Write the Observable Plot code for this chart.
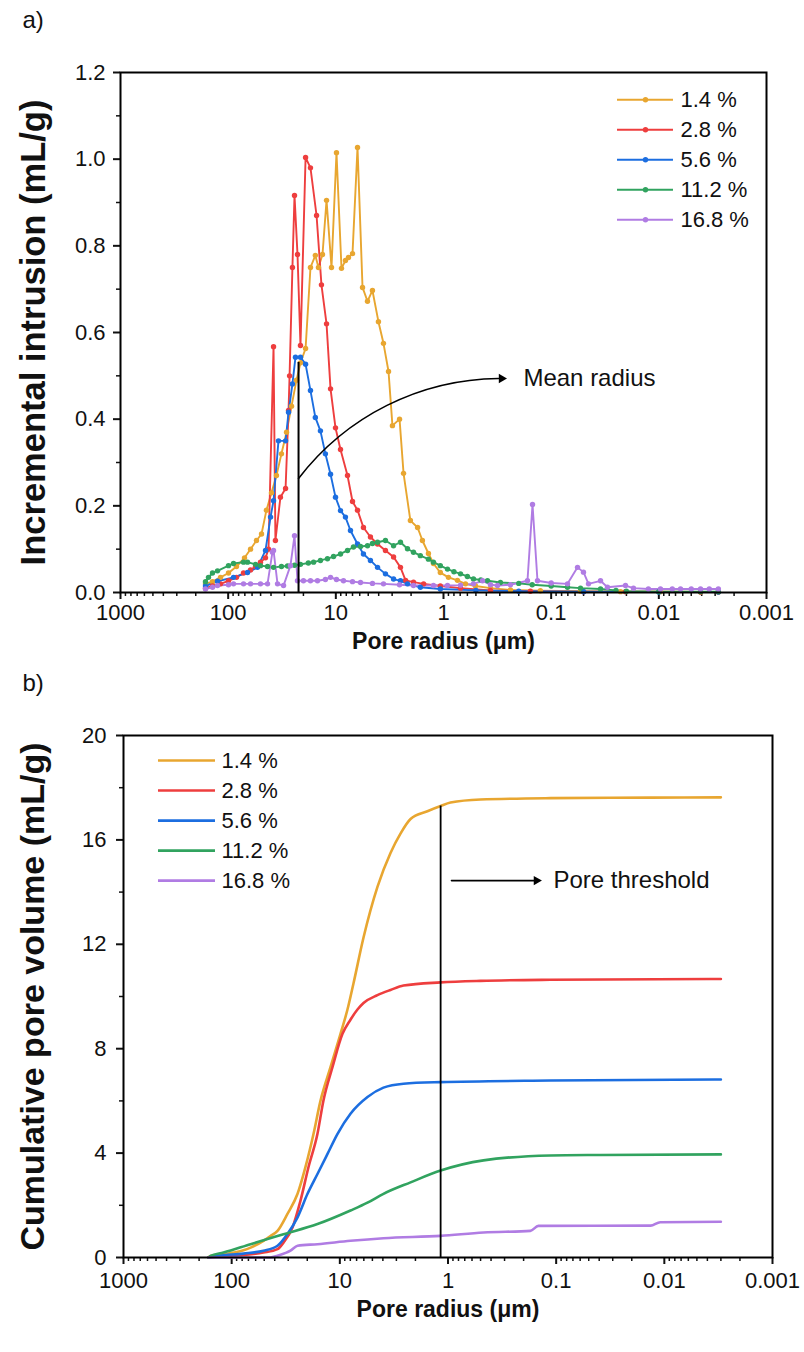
<!DOCTYPE html>
<html><head><meta charset="utf-8">
<script src="https://cdn.jsdelivr.net/npm/d3@7"></script>
<script src="https://cdn.jsdelivr.net/npm/@observablehq/plot@0.6"></script>
<style>
html,body{margin:0;padding:0;background:#fff;overflow:hidden;}
#chart{width:804px;height:1352px;position:relative;background:#fff;}
#chart svg{display:block;}
</style></head><body><div id="chart"></div>
<script>
// ---------- data ----------
const seriesNames = ["1.4 %", "2.8 %", "5.6 %", "11.2 %", "16.8 %"];
const seriesColors = ["#E8A630", "#EE3E3E", "#1C6EE0", "#31A35F", "#B07CE3"];

const xTicks = [1000, 100, 10, 1, 0.1, 0.01, 0.001];
const xTickLabels = ["1000", "100", "10", "1", "0.1", "0.01", "0.001"];
const yTicksA = [0, 0.2, 0.4, 0.6, 0.8, 1.0, 1.2];
const yTicksB = [0, 4, 8, 12, 16, 20];

// a) incremental intrusion (mL/g) vs pore radius (µm)
const inc_1_4 = [[162.4,0.02],[139.8,0.025],[117.8,0.035],[99.3,0.045],[83.7,0.06],[70.5,0.08],[62.0,0.10],[54.6,0.12],[49.0,0.135],[44.1,0.19],[39.6,0.23],[35.6,0.27],[32.0,0.32],[28.7,0.37],[25.8,0.43],[23.2,0.49],[21.3,0.53],[19.1,0.563],[17.2,0.75],[15.5,0.778],[14.5,0.75],[13.3,0.78],[12.2,0.905],[10.97,0.75],[9.86,1.015],[8.86,0.748],[8.14,0.766],[7.63,0.773],[7.00,0.782],[6.29,1.027],[5.65,0.704],[5.08,0.672],[4.57,0.697],[4.02,0.625],[3.61,0.575],[3.24,0.51],[2.98,0.385],[2.56,0.40],[2.35,0.275],[2.03,0.166],[1.74,0.15],[1.57,0.12],[1.38,0.09],[1.24,0.067],[1.07,0.046],[0.899,0.035],[0.742,0.028],[0.625,0.02],[0.505,0.015],[0.366,0.01],[0.239,0.006],[0.126,0.004],[0.0534,0.003],[0.0227,0.002],[0.00966,0.002],[0.0041,0.001],[0.0028,0.001]];
const inc_2_8 = [[162.4,0.01],[139.8,0.015],[117.8,0.02],[99.3,0.027],[83.7,0.035],[72.0,0.045],[62.0,0.052],[55.7,0.06],[50.1,0.07],[45.0,0.08],[42.2,0.10],[37.9,0.567],[36.4,0.12],[32.7,0.22],[29.3,0.24],[27.5,0.42],[26.9,0.50],[25.3,0.75],[24.2,0.916],[22.7,0.78],[21.3,0.57],[19.1,1.004],[17.2,0.98],[15.1,0.87],[13.6,0.71],[12.2,0.62],[11.2,0.47],[10.07,0.38],[9.05,0.33],[7.79,0.27],[7.00,0.21],[6.29,0.19],[5.54,0.15],[4.77,0.128],[4.10,0.112],[3.46,0.097],[2.91,0.082],[2.51,0.058],[2.25,0.028],[1.90,0.024],[1.53,0.02],[1.07,0.015],[0.695,0.01],[0.366,0.005],[0.156,0.003],[0.05,0.002],[0.0204,0.002],[0.0041,0.001],[0.0028,0.001]];
const inc_5_6 = [[162.4,0.015],[125.6,0.026],[89.2,0.035],[66.1,0.046],[53.4,0.058],[45.0,0.097],[40.4,0.174],[37.9,0.212],[34.1,0.35],[29.3,0.35],[27.5,0.416],[25.3,0.481],[23.7,0.543],[21.3,0.543],[19.1,0.527],[17.2,0.466],[15.5,0.404],[13.9,0.373],[12.5,0.32],[11.2,0.273],[10.07,0.22],[9.05,0.189],[8.14,0.174],[7.31,0.143],[6.29,0.112],[5.54,0.089],[4.77,0.074],[4.10,0.058],[3.46,0.043],[2.91,0.031],[2.51,0.027],[2.16,0.02],[1.64,0.012],[1.07,0.008],[0.5,0.005],[0.2,0.003],[0.05,0.002],[0.01,0.001],[0.0028,0.001]];
const inc_11_2 = [[162.4,0.025],[152.3,0.035],[139.8,0.045],[125.6,0.05],[99.3,0.062],[89.2,0.067],[72.0,0.07],[66.1,0.07],[55.7,0.065],[50.1,0.062],[43.1,0.06],[37.9,0.058],[32.0,0.06],[28.1,0.061],[24.2,0.063],[21.3,0.065],[18.0,0.068],[16.1,0.07],[13.9,0.074],[11.96,0.078],[10.5,0.083],[9.05,0.089],[7.79,0.097],[6.86,0.105],[5.90,0.106],[5.08,0.108],[4.57,0.113],[4.10,0.116],[3.46,0.12],[2.91,0.108],[2.51,0.116],[2.16,0.101],[1.90,0.093],[1.64,0.085],[1.38,0.077],[1.24,0.07],[1.07,0.062],[0.918,0.054],[0.80,0.048],[0.695,0.043],[0.6,0.037],[0.527,0.031],[0.45,0.029],[0.39,0.027],[0.296,0.023],[0.2,0.021],[0.15,0.018],[0.1,0.015],[0.0705,0.012],[0.0534,0.01],[0.0348,0.008],[0.025,0.005],[0.02,0.003],[0.01,0.002],[0.0041,0.002],[0.0028,0.002]];
const inc_16_8 = [[162.4,0.008],[139.8,0.012],[125.6,0.016],[99.3,0.018],[89.2,0.02],[72.0,0.02],[62.0,0.02],[50.1,0.02],[43.1,0.02],[38.8,0.093],[37.9,0.097],[34.8,0.02],[30.6,0.016],[26.4,0.062],[24.2,0.131],[22.7,0.027],[20.0,0.027],[17.2,0.027],[14.8,0.027],[12.5,0.03],[11.2,0.035],[9.86,0.03],[8.49,0.027],[7.0,0.025],[5.90,0.023],[4.57,0.021],[3.61,0.02],[2.56,0.018],[1.90,0.016],[1.24,0.016],[0.918,0.016],[0.695,0.017],[0.527,0.02],[0.434,0.027],[0.366,0.018],[0.315,0.016],[0.239,0.018],[0.166,0.027],[0.149,0.203],[0.134,0.027],[0.1,0.022],[0.0705,0.02],[0.0569,0.058],[0.0501,0.047],[0.045,0.02],[0.0348,0.027],[0.030,0.012],[0.0204,0.016],[0.0172,0.01],[0.0125,0.008],[0.00966,0.008],[0.0075,0.008],[0.00629,0.008],[0.005,0.008],[0.0041,0.008],[0.0034,0.008],[0.0028,0.008]];

// b) cumulative pore volume (mL/g) vs pore radius (µm)
const cum_1_4 = [[163.8,0],[156.9,0.06],[119.0,0.12],[96.2,0.19],[77.7,0.28],[66.9,0.38],[50.8,0.64],[43.8,0.82],[37.7,1.02],[30.5,1.67],[24.6,2.44],[20.8,3.46],[17.5,4.74],[15.1,6.0],[12.2,7.29],[9.86,8.57],[8.50,9.5],[7.48,10.5],[6.04,12.26],[4.49,14.2],[3.40,15.5],[2.75,16.24],[2.22,16.8],[1.55,17.1],[1.17,17.3],[0.948,17.43],[0.501,17.55],[0.113,17.6],[0.0134,17.62],[0.003,17.63]];
const cum_2_8 = [[163.8,0],[135.2,0.04],[77.7,0.1],[50.8,0.19],[37.7,0.32],[33.2,0.57],[27.4,1.15],[23.1,2.18],[19.5,3.46],[16.1,4.74],[14.2,6.0],[11.7,7.29],[9.45,8.57],[8.0,9.1],[6.87,9.5],[6.04,9.75],[4.49,10.05],[3.40,10.25],[2.58,10.42],[1.17,10.54],[0.501,10.6],[0.113,10.64],[0.003,10.67]];
const cum_5_6 = [[163.8,0],[135.2,0.06],[77.7,0.15],[50.8,0.26],[37.7,0.45],[30.5,0.9],[24.6,1.54],[19.9,2.44],[16.1,3.2],[13.0,3.97],[10.5,4.74],[7.97,5.51],[5.55,6.15],[3.95,6.51],[2.58,6.66],[1.17,6.72],[0.113,6.78],[0.003,6.82]];
const cum_11_2 = [[163.8,0],[156.9,0.06],[119.0,0.19],[66.9,0.51],[33.2,0.89],[16.1,1.28],[7.97,1.8],[5.55,2.1],[3.95,2.44],[2.22,2.88],[1.17,3.33],[0.47,3.72],[0.113,3.91],[0.0389,3.93],[0.003,3.95]];
const cum_16_8 = [[163.8,0],[43.8,0],[37.7,0.07],[28.6,0.26],[24.6,0.45],[16.1,0.51],[7.97,0.64],[3.95,0.74],[1.17,0.83],[0.47,0.96],[0.173,1.02],[0.146,1.21],[0.0134,1.22],[0.0109,1.35],[0.003,1.37]];

// annotations
const meanRadius = 22.2, meanRadiusTop = 0.531;
const meanArrow = {x1: 22.2, y1: 0.263, x2: 0.308, y2: 0.494, head: 0.289, label: 0.181, text: "Mean radius"};
const poreThreshold = 1.17, poreThresholdTop = 17.3;
const thresholdArrow = {x1: 0.929, x2: 0.16, y: 14.44, head: 0.152, label: 0.106, text: "Pore threshold"};

// ---------- helpers ----------
const FONT = "'Liberation Sans', Arial, Helvetica, sans-serif";
const rows = (arrs) => seriesNames.flatMap((s, i) => arrs[i].map(([r, v]) => ({series: s, r, v})));
const tableA = rows([inc_1_4, inc_2_8, inc_5_6, inc_11_2, inc_16_8]);
const tableB = rows([cum_1_4, cum_2_8, cum_5_6, cum_11_2, cum_16_8]);
const legendRows = seriesNames.map((s, i) => ({series: s, i}));
const xMinor = [];
for (let e = -3; e < 3; e++) for (let k = 2; k <= 9; k++) xMinor.push(+(k * Math.pow(10, e)).toPrecision(3));
const xFmt = d => xTickLabels[xTicks.indexOf(d)] ?? "";
const color = {domain: seriesNames, range: seriesColors};
const styleBase = {fontFamily: FONT, fontSize: "22px", color: "#111", background: "transparent", overflow: "visible"};

// legend layout (in data units)
const LA = {x1: 0.0242, x2: 0.00731, xd: 0.0133, xt: 0.0063, y0: 1.137, dy: 0.0692};
const LB = {x1: 474.8, x2: 141.1, xt: 124.2, y0: 19.04, dy: 1.15};

// ---------- panel a ----------
const plotA = Plot.plot({
  width: 804, height: 660,
  marginTop: 72, marginBottom: 68, marginLeft: 120, marginRight: 38,
  style: styleBase,
  x: {type: "log", domain: [1000, 0.001]},
  y: {domain: [0, 1.2]},
  color,
  marks: [
    Plot.axisX({ticks: xTicks, tickFormat: xFmt, tickSize: 7, tickPadding: 5, strokeWidth: 2, fontSize: 22, label: null}),
    Plot.axisX({ticks: xMinor, tickSize: 4, strokeWidth: 1.5, text: null, label: null}),
    Plot.axisY({ticks: yTicksA, tickFormat: d3.format(".1f"), tickSize: 7, tickPadding: 8, strokeWidth: 2, fontSize: 22, label: null}),
    Plot.axisY({ticks: [0.1, 0.3, 0.5, 0.7, 0.9, 1.1], tickSize: 4, strokeWidth: 1.5, text: null, label: null}),
    Plot.line(tableA, {x: "r", y: "v", z: "series", stroke: "series", strokeWidth: 1.9}),
    Plot.dot(tableA, {x: "r", y: "v", fill: "series", r: 2.7}),
    Plot.ruleX([meanRadius], {y1: 0, y2: meanRadiusTop, stroke: "#000", strokeWidth: 2}),
    Plot.arrow([meanArrow], {x1: "x1", y1: "y1", x2: "x2", y2: "y2", bend: 26, headLength: 0, stroke: "#000", strokeWidth: 1.6}),
    Plot.dot([meanArrow], {x: "head", y: "y2", symbol: "triangle2", rotate: 90, r: 4.5, fill: "#000", stroke: "none"}),
    Plot.text([meanArrow], {x: "label", y: "y2", text: "text", textAnchor: "start", fontSize: 24}),
    // legend
    Plot.ruleY(legendRows, {x1: () => LA.x1, x2: () => LA.x2, y: d => LA.y0 - d.i * LA.dy, stroke: "series", strokeWidth: 1.9}),
    Plot.dot(legendRows, {x: () => LA.xd, y: d => LA.y0 - d.i * LA.dy, fill: "series", r: 2.7}),
    Plot.text(legendRows, {x: () => LA.xt, y: d => LA.y0 - d.i * LA.dy, text: "series", textAnchor: "start", fontSize: 22}),
    Plot.frame({stroke: "#000", strokeWidth: 2}),
    // titles
    Plot.text(["Incremental intrusion (mL/g)"], {frameAnchor: "left", dx: -87, rotate: -90, fontSize: 34.5, fontWeight: "bold", textAnchor: "middle", lineAnchor: "middle"}),
    Plot.text(["Pore radius (μm)"], {frameAnchor: "bottom", dy: 49, fontSize: 23, fontWeight: "bold", textAnchor: "middle", lineAnchor: "middle"}),
    Plot.text(["a)"], {frameAnchor: "top-left", dx: -98, dy: -52, fontSize: 24, textAnchor: "start", lineAnchor: "middle"})
  ]
});

// ---------- panel b ----------
const plotB = Plot.plot({
  width: 804, height: 692,
  marginTop: 75, marginBottom: 95, marginLeft: 123, marginRight: 32,
  style: styleBase,
  x: {type: "log", domain: [1000, 0.001]},
  y: {domain: [0, 20]},
  color,
  marks: [
    Plot.axisX({ticks: xTicks, tickFormat: xFmt, tickSize: 7, tickPadding: 8, strokeWidth: 2, fontSize: 22, label: null}),
    Plot.axisX({ticks: xMinor, tickSize: 4, strokeWidth: 1.5, text: null, label: null}),
    Plot.axisY({ticks: yTicksB, tickFormat: d3.format("d"), tickSize: 7, tickPadding: 10, strokeWidth: 2, fontSize: 22, label: null}),
    Plot.axisY({ticks: [2, 6, 10, 14, 18], tickSize: 4, strokeWidth: 1.5, text: null, label: null}),
    Plot.line(tableB, {x: "r", y: "v", z: "series", stroke: "series", strokeWidth: 2.6, curve: "monotone-x"}),
    Plot.ruleX([poreThreshold], {y1: 0, y2: poreThresholdTop, stroke: "#000", strokeWidth: 1.8}),
    Plot.arrow([thresholdArrow], {x1: "x1", y1: "y", x2: "x2", y2: "y", headLength: 0, stroke: "#000", strokeWidth: 1.6}),
    Plot.dot([thresholdArrow], {x: "head", y: "y", symbol: "triangle2", rotate: 90, r: 4.5, fill: "#000", stroke: "none"}),
    Plot.text([thresholdArrow], {x: "label", y: "y", text: "text", textAnchor: "start", fontSize: 24}),
    // legend
    Plot.ruleY(legendRows, {x1: () => LB.x1, x2: () => LB.x2, y: d => LB.y0 - d.i * LB.dy, stroke: "series", strokeWidth: 2.6}),
    Plot.text(legendRows, {x: () => LB.xt, y: d => LB.y0 - d.i * LB.dy, text: "series", textAnchor: "start", fontSize: 22}),
    Plot.frame({stroke: "#000", strokeWidth: 2}),
    // titles
    Plot.text(["Cumulative pore volume (mL/g)"], {frameAnchor: "left", dx: -90, rotate: -90, fontSize: 34, fontWeight: "bold", textAnchor: "middle", lineAnchor: "middle"}),
    Plot.text(["Pore radius (μm)"], {frameAnchor: "bottom", dy: 52, fontSize: 23, fontWeight: "bold", textAnchor: "middle", lineAnchor: "middle"}),
    Plot.text(["b)"], {frameAnchor: "top-left", dx: -101, dy: -52, fontSize: 24, textAnchor: "start", lineAnchor: "middle"})
  ]
});

const chart = document.getElementById("chart");
chart.appendChild(plotA);
chart.appendChild(plotB);
</script></body></html>
